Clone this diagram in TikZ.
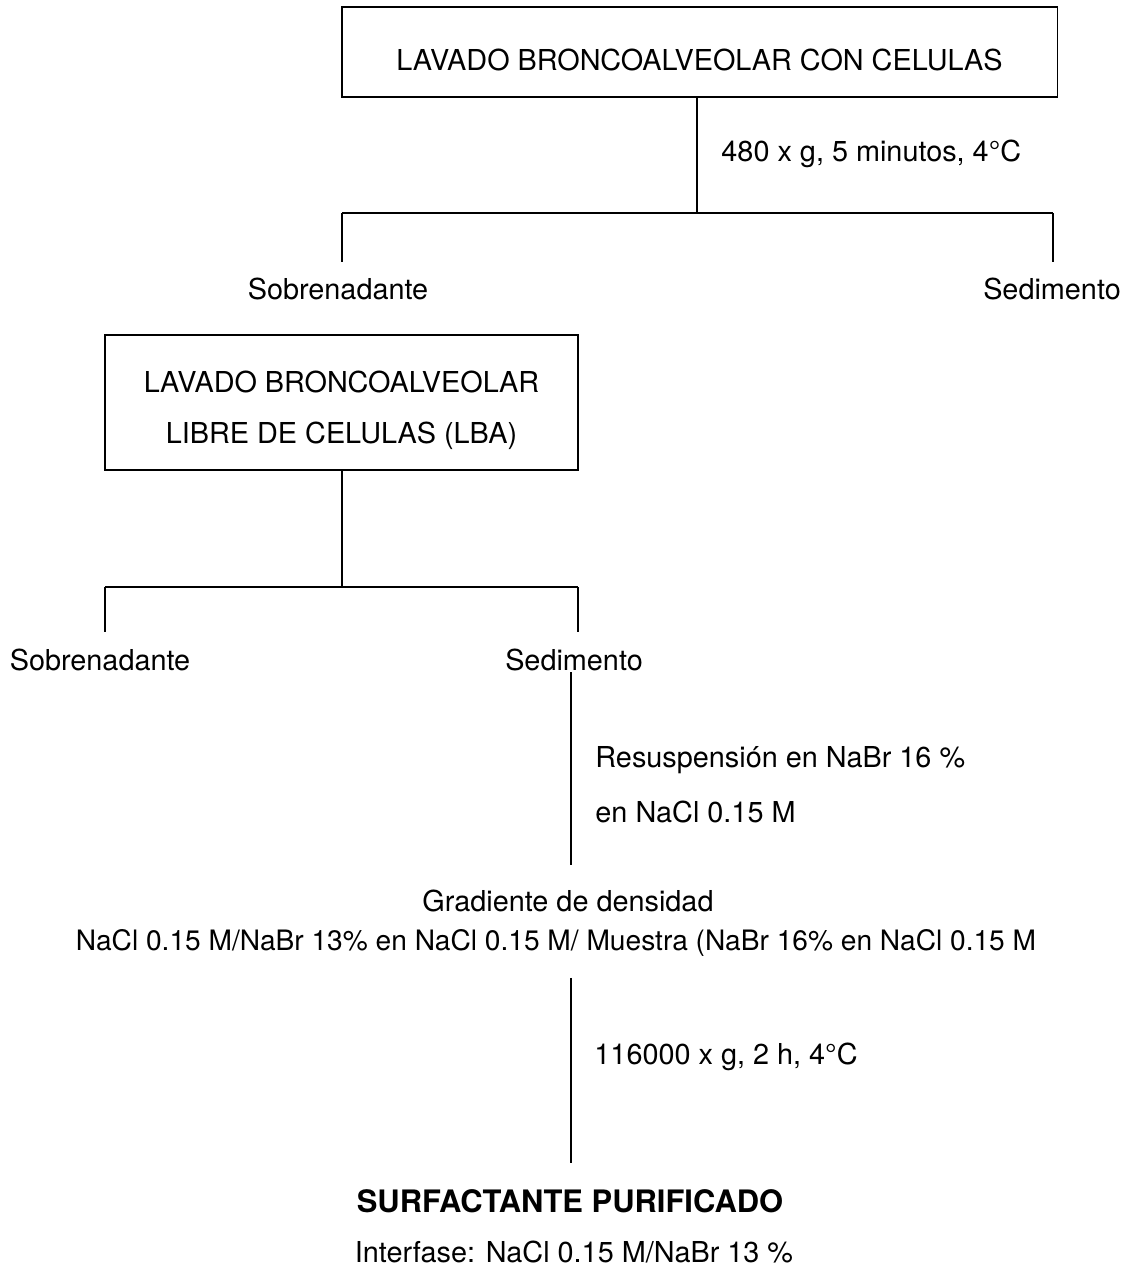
\documentclass[tikz,border=0pt]{standalone}
\usepackage{fontspec}
\setmainfont{TeX Gyre Heros}
\usepackage{tikz}
\usetikzlibrary{positioning, calc}

\begin{document}
\begin{tikzpicture}[
  x=0.025cm, y=-0.025cm,
  font=\fontsize{20.5}{25}\selectfont,
  line width=0.9pt,
  caja/.style={draw, line width=1pt, align=center, inner sep=0pt},
  txt/.style={inner sep=2pt},
  cond/.style={txt, anchor=west},
  rama/.style={draw},
]
\useasboundingbox (0,0) rectangle (1129,1270);

% ======================= primer lavado ==================================
\node[caja, minimum width=17.88cm, minimum height=2.25cm] (lbc) at (699.5,52)
  {\rule{0pt}{26pt}LAVADO BRONCOALVEOLAR CON CELULAS};
\coordinate (r1) at (697,213);
\coordinate (r1l) at (342,213);
\coordinate (r1r) at (1053,213);
\draw[rama] (lbc.south -| r1) -- (r1);
\node[cond] (c480) at (718,154) {480 x g, 5 minutos, 4°C};
\node[txt] (sob1) at (338,289) {Sobrenadante};
\node[txt] (sed1) at (1052,289) {Sedimento};
\draw[rama] (r1l) -- (r1r);
\draw[rama] (r1l) -- (r1l |- 0,262);
\draw[rama] (r1r) -- (r1r |- 0,262);

% ======================= LBA ============================================
\node[caja, minimum width=11.83cm, minimum height=3.38cm] (lba) at (341.5,402.5)
  {\rule{0pt}{26pt}LAVADO BRONCOALVEOLAR\\[11pt] LIBRE DE CELULAS (LBA)};
\coordinate (r2) at (342,587);
\coordinate (r2l) at (105,587);
\coordinate (r2r) at (578,587);
\draw[rama] (lba.south -| r2) -- (r2);
\draw[rama] (r2l) -- (r2r);
\draw[rama] (r2l) -- (r2l |- 0,632);
\draw[rama] (r2r) -- (r2r |- 0,632);
\node[txt] (sob2) at (100,660) {Sobrenadante};
\node[txt] (sed2) at (574,660) {Sedimento};

% ======================= gradiente ======================================
\coordinate (g1) at (571,865);
\draw[rama] (sed2.south -| g1) ++(0,-2) -- (g1);
\node[cond] (resus) at (592,760) {Resuspensión en NaBr 16 \%};
\node[cond] (nacl) at (592,812) {en NaCl 0.15 M};
\node[txt] (grad) at (568,901) {Gradiente de densidad};
\node[txt, font=\fontsize{20}{24}\selectfont] (capas) at (556,943)
  {NaCl 0.15 M/NaBr 13\% en NaCl 0.15 M/ Muestra (NaBr 16\% en NaCl 0.15 M};

% ======================= ultracentrifugacion ============================
\coordinate (g2) at (571,1163);
\draw[rama] (capas.south -| g2) ++(0,18) -- (g2);
\node[cond] (c116) at (591,1057) {116000 x g, 2 h, 4°C};
\node[txt, font=\fontsize{22}{26}\selectfont\bfseries] (surf) at (570,1201)
  {SURFACTANTE PURIFICADO};
\node[txt] (inter) at (574,1252) {Interfase: NaCl 0.15 M/NaBr 13 \%};
\end{tikzpicture}
\end{document}
